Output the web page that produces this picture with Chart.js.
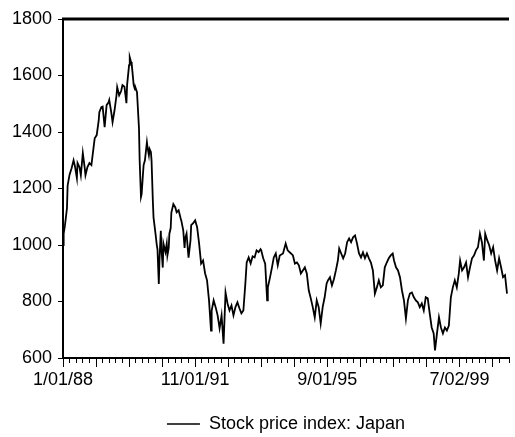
<!DOCTYPE html>
<html>
<head>
<meta charset="utf-8">
<script src="https://cdn.jsdelivr.net/npm/chart.js@4/dist/chart.umd.min.js"></script>
<style>
html,body{margin:0;padding:0;background:#fff;}
#wrap{width:515px;height:437px;}
</style>
</head>
<body>
<div id="wrap"><canvas id="c" width="515" height="437"></canvas></div>
<script>
// Week number counted from 1/01/88 (weekly observations)
const weeks = [
  0,1,3,6,7,10,13,16,18,21,
  22,25,27,30,33,34,37,40,43,46,
  48,51,54,55,58,60,63,66,69,70,
  73,75,78,81,82,85,88,90,93,96,
  97,100,101,103,104,107,109,110,112,115,
  116,118,119,121,122,124,127,128,130,131,
  133,134,136,137,140,142,143,145,146,148,
  149,151,152,155,157,158,160,161,163,164,
  167,170,172,175,178,179,182,184,185,187,
  190,193,194,197,200,203,206,209,212,215,
  218,221,224,225,228,231,234,237,240,243,
  246,249,252,255,258,261,264,267,270,273,
  276,278,281,284,287,290,293,296,299,300,
  303,306,309,310,313,316,319,322,325,328,
  333,337,340,345,348,351,354,357,360,363,
  366,369,372,375,378,381,384,387,390,393,
  396,399,401,404,407,410,413,416,418,421,
  424,427,430,433,436,439,442,445,448,451,
  454,457,460,463,466,469,472,475,478,481,
  484,487,490,493,496,499,501,504,507,510,
  513,516,519,522,525,528,531,534,537,540,
  543,546,549,552,555,558,561,563,566,569,
  572,575,578,581,584,587,590,593,596,599,
  601,604,607,610,613,616,619,622,625,628,
  631,634,637,639,642,645,648,651,654,657,
  660,663,666,669,672
];
// Stock price index: Japan
const values = [
  1000,1040,1070,1130,1210,1250,1272,1300,1280,1237,
  1290,1275,1247,1325,1270,1247,1276,1290,1283,1340,
  1378,1389,1440,1470,1488,1490,1417,1495,1505,1513,
  1470,1435,1477,1530,1559,1530,1545,1566,1560,1502,
  1566,1637,1665,1648,1640,1566,1550,1555,1541,1413,
  1300,1170,1180,1250,1283,1300,1364,1345,1318,1340,
  1329,1300,1155,1098,1040,999,985,862,945,1050,
  985,920,1005,975,1005,963,990,1040,1060,1115,
  1145,1133,1116,1123,1095,1087,1052,990,1024,1040,
  955,1017,1070,1077,1087,1063,1005,934,945,900,
  875,804,697,768,804,780,751,705,751,651,
  832,793,768,786,751,780,797,776,758,768,
  864,938,956,935,960,956,981,975,985,981,
  953,934,804,850,882,917,956,970,928,963,
  970,1005,981,970,963,934,938,928,899,910,
  921,899,839,811,780,744,804,780,722,780,
  815,864,875,886,857,879,910,945,988,970,
  953,970,1010,1023,1010,1027,1034,1005,970,956,
  974,953,970,953,938,910,828,850,875,850,
  857,921,938,953,963,970,945,921,910,886,
  839,804,740,804,828,832,815,804,797,780,
  793,768,815,811,758,708,687,627,687,744,
  708,687,708,697,715,815,850,875,850,899,
  945,910,921,938,886,921,953,963,981,992,
  1040,1010,945,1040,1017,999,970,992,945,910,
  953,921,886,893,828
];
const tickWeeks = [0, 200, 400, 600];
const tickLabels = ['1/01/88', '11/01/91', '9/01/95', '7/02/99'];
const seriesName = 'Stock price index: Japan';

const points = weeks.map((w, i) => ({x: w, y: values[i]}));
const FONT = {family: "'Liberation Sans', Arial, sans-serif", size: 18};

const framePlugin = {
  id: 'frame',
  afterDraw(chart) {
    const {ctx, chartArea} = chart;
    const xs = chart.scales.x;
    ctx.save();
    ctx.strokeStyle = '#000';
    ctx.lineWidth = 3;
    ctx.beginPath();
    ctx.moveTo(chartArea.left - 1, chartArea.top);
    ctx.lineTo(chartArea.right, chartArea.top);
    ctx.stroke();
    // longer major ticks every 50 weeks
    ctx.lineWidth = 1;
    for (let v = 0; v <= xs.max; v += 50) {
      const px = Math.round(xs.getPixelForValue(v)) + 0.5;
      ctx.beginPath();
      ctx.moveTo(px, chartArea.bottom);
      ctx.lineTo(px, chartArea.bottom + 9);
      ctx.stroke();
    }
    ctx.restore();
  }
};

new Chart(document.getElementById('c'), {
  type: 'line',
  data: {
    datasets: [{
      label: seriesName,
      data: points,
      borderColor: '#000',
      backgroundColor: '#000',
      borderWidth: 1.8,
      pointRadius: 0,
      tension: 0,
      fill: false
    }]
  },
  options: {
    responsive: false,
    animation: false,
    layout: {padding: {top: 19, left: 0, right: 0, bottom: -6}},
    plugins: {
      tooltip: {enabled: false},
      legend: {
        position: 'bottom',
        fullSize: false,
        labels: {
          color: '#000',
          font: FONT,
          padding: 2,
          usePointStyle: true,
          pointStyle: 'line',
          pointStyleWidth: 33,
          generateLabels(chart) {
            const items = Chart.defaults.plugins.legend.labels.generateLabels(chart);
            items.forEach(it => { it.lineWidth = 1.3; it.pointStyle = 'line'; it.strokeStyle = '#000'; });
            return items;
          }
        }
      }
    },
    scales: {
      x: {
        type: 'linear',
        min: 0,
        max: 675,
        afterFit(s) { s.height = 55; },
        border: {color: '#000', width: 2},
        grid: {drawOnChartArea: false, drawTicks: true, tickLength: 5, color: '#000', tickWidth: 1},
        ticks: {
          stepSize: 10,
          autoSkip: false,
          maxRotation: 0,
          color: '#000',
          font: FONT,
          padding: 6,
          callback(v) {
            const i = tickWeeks.indexOf(v);
            return i >= 0 ? tickLabels[i] : '';
          }
        }
      },
      y: {
        min: 600,
        max: 1800,
        afterFit(s) { s.width = 63; },
        border: {color: '#000', width: 2},
        grid: {drawOnChartArea: false, drawTicks: true, tickLength: 5, color: '#000'},
        ticks: {stepSize: 200, color: '#000', font: FONT, padding: 6, callback: v => String(v)}
      }
    }
  },
  plugins: [framePlugin]
});
</script>
</body>
</html>
